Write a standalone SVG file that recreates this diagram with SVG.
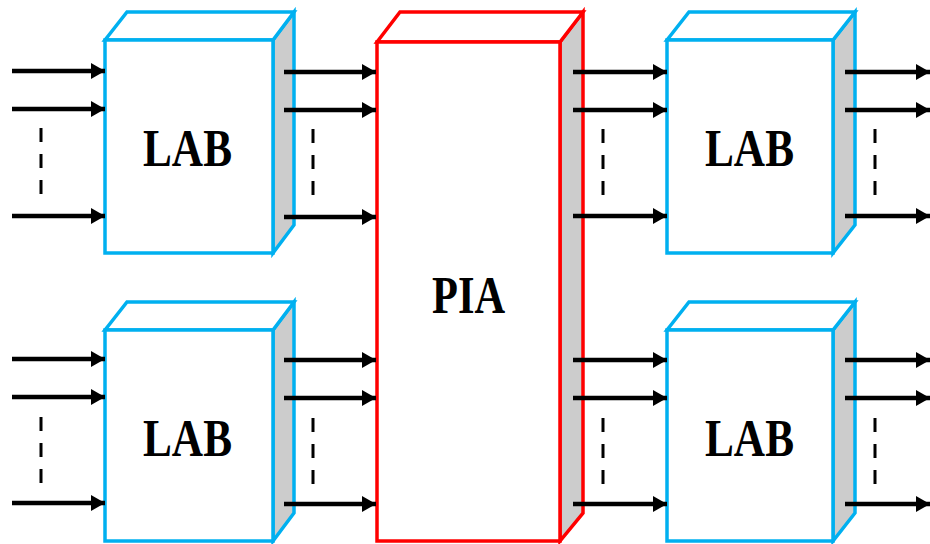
<svg xmlns="http://www.w3.org/2000/svg" width="930" height="544" viewBox="0 0 930 544">
<style>
.face{fill:#ffffff;stroke-width:3.5;stroke-linejoin:miter}
.side{fill:#cccccc;stroke-width:3.5}
.lab{stroke:#00b0f0}
.pia{stroke:#ff0000}
.lbl{font-family:"Liberation Serif","Times New Roman",serif;font-weight:bold;font-size:52px;fill:#000}
.arr{stroke:#000;stroke-width:4.5;fill:none;marker-end:url(#ah)}
.dash{stroke:#000;stroke-width:3;stroke-dasharray:14 12;fill:none}
</style>
<defs>
<marker id="ah" markerUnits="userSpaceOnUse" markerWidth="16" markerHeight="18" refX="14" refY="8.5" orient="auto">
<path d="M0,0.5 L14,8.5 L0,16.5 z" fill="#000"/>
</marker>
</defs>
<g id="lab1">
<path class="side lab" d="M273,40 L294,12 L294,225 L273,253 z"/>
<path class="face lab" d="M105,40 L127,12 L294,12 L273,40 z"/>
<rect class="face lab" x="105" y="40" width="168" height="213"/>
<text class="lbl" x="143" y="166" textLength="89" lengthAdjust="spacingAndGlyphs">LAB</text>
</g>
<g id="lab2">
<path class="side lab" d="M273,330 L294,302 L294,513 L273,541 z"/>
<path class="face lab" d="M105,330 L127,302 L294,302 L273,330 z"/>
<rect class="face lab" x="105" y="330" width="168" height="211"/>
<text class="lbl" x="143" y="456" textLength="89" lengthAdjust="spacingAndGlyphs">LAB</text>
</g>
<g id="pia">
<path class="side pia" d="M560,42 L583,12 L583,513 L560,541 z"/>
<path class="face pia" d="M377,42 L400,12 L583,12 L560,42 z"/>
<rect class="face pia" x="377" y="42" width="183" height="499"/>
<text class="lbl" x="432" y="313" textLength="73" lengthAdjust="spacingAndGlyphs">PIA</text>
</g>
<g id="lab3">
<path class="side lab" d="M833,40 L855,12 L855,225 L833,253 z"/>
<path class="face lab" d="M667,40 L689,12 L855,12 L833,40 z"/>
<rect class="face lab" x="667" y="40" width="166" height="213"/>
<text class="lbl" x="705" y="166" textLength="89" lengthAdjust="spacingAndGlyphs">LAB</text>
</g>
<g id="lab4">
<path class="side lab" d="M833,330 L855,302 L855,513 L833,541 z"/>
<path class="face lab" d="M667,330 L689,302 L855,302 L833,330 z"/>
<rect class="face lab" x="667" y="330" width="166" height="211"/>
<text class="lbl" x="705" y="456" textLength="89" lengthAdjust="spacingAndGlyphs">LAB</text>
</g>
<g id="connectors">
<line class="arr" x1="12" y1="71" x2="105" y2="71"/>
<line class="arr" x1="12" y1="109" x2="105" y2="109"/>
<line class="arr" x1="12" y1="216" x2="105" y2="216"/>
<line class="dash" x1="41" y1="128" x2="41" y2="198"/>
<line class="arr" x1="12" y1="359" x2="105" y2="359"/>
<line class="arr" x1="12" y1="397" x2="105" y2="397"/>
<line class="arr" x1="12" y1="503" x2="105" y2="503"/>
<line class="dash" x1="41" y1="417" x2="41" y2="487"/>

<line class="arr" x1="284" y1="72" x2="376" y2="72"/>
<line class="arr" x1="284" y1="110" x2="376" y2="110"/>
<line class="arr" x1="284" y1="217" x2="376" y2="217"/>
<line class="dash" x1="313" y1="129" x2="313" y2="199"/>
<line class="arr" x1="284" y1="360" x2="376" y2="360"/>
<line class="arr" x1="284" y1="398" x2="376" y2="398"/>
<line class="arr" x1="284" y1="504" x2="376" y2="504"/>
<line class="dash" x1="313" y1="418" x2="313" y2="488"/>

<line class="arr" x1="573" y1="72" x2="667" y2="72"/>
<line class="arr" x1="573" y1="110" x2="667" y2="110"/>
<line class="arr" x1="573" y1="216" x2="667" y2="216"/>
<line class="dash" x1="603" y1="129" x2="603" y2="199"/>
<line class="arr" x1="573" y1="360" x2="667" y2="360"/>
<line class="arr" x1="573" y1="398" x2="667" y2="398"/>
<line class="arr" x1="573" y1="504" x2="667" y2="504"/>
<line class="dash" x1="603" y1="418" x2="603" y2="488"/>

<line class="arr" x1="845" y1="72" x2="930" y2="72"/>
<line class="arr" x1="845" y1="110" x2="930" y2="110"/>
<line class="arr" x1="845" y1="216" x2="930" y2="216"/>
<line class="dash" x1="875" y1="129" x2="875" y2="199"/>
<line class="arr" x1="845" y1="360" x2="930" y2="360"/>
<line class="arr" x1="845" y1="398" x2="930" y2="398"/>
<line class="arr" x1="845" y1="504" x2="930" y2="504"/>
<line class="dash" x1="875" y1="418" x2="875" y2="488"/>
</g>
</svg>
